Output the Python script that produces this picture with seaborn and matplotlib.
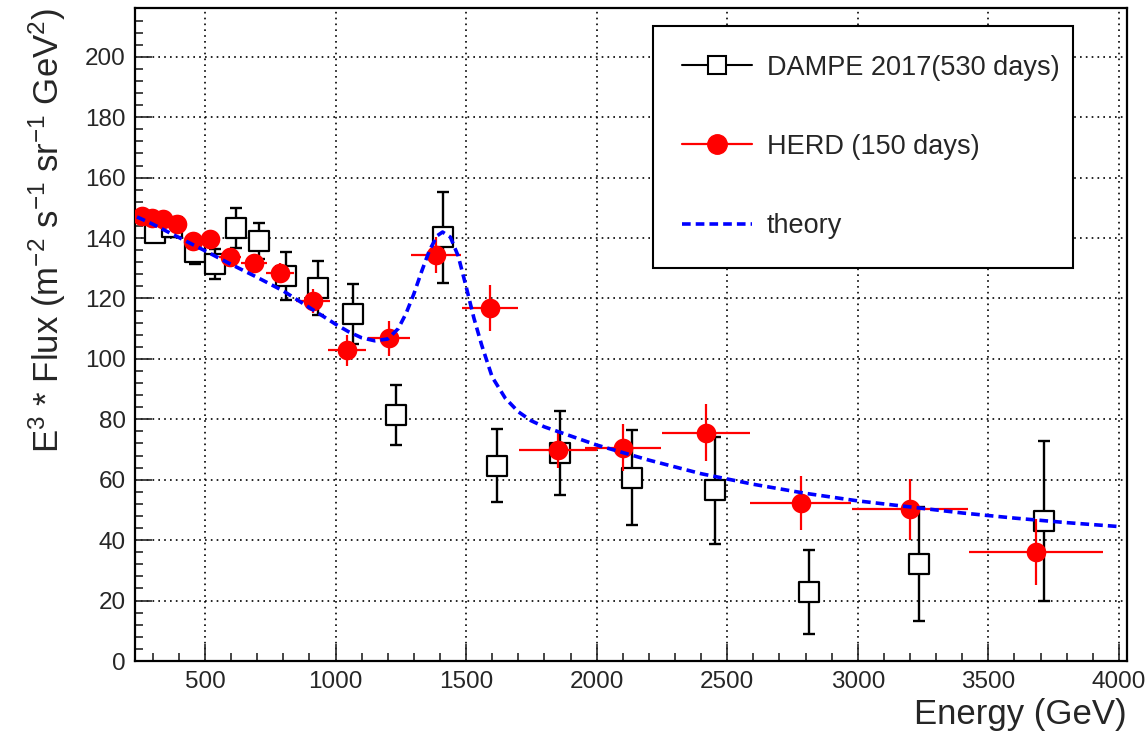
import matplotlib
matplotlib.use("Agg")
import matplotlib.pyplot as plt
from matplotlib.lines import Line2D
from matplotlib.ticker import MultipleLocator
import seaborn as sns

# DAMPE 2017 (530 days)
dampe_e = [309, 374, 462, 538, 619, 707, 810, 933, 1067, 1231, 1411, 1618, 1859, 2135, 2453, 2813, 3234, 3713]
dampe_flux = [141.8, 143.5, 135.3, 131.5, 143.3, 139.0, 127.4, 123.5, 114.8, 81.4, 140.2, 64.7, 68.9, 60.6, 56.5, 22.8, 32.1, 46.4]
dampe_err = [3, 3, 4, 5, 6.5, 6, 8, 9, 10, 9.8, 15, 12, 14, 15.7, 17.7, 14, 19, 26.5]

# HERD (150 days)
herd_e = [259, 297, 339, 393, 454, 519, 596, 688, 787, 914, 1044, 1205, 1385, 1591, 1852, 2101, 2419, 2782, 3200, 3682]
herd_flux = [147.3, 146.8, 146.3, 144.8, 139.1, 139.6, 133.6, 131.6, 128.6, 119.1, 102.8, 106.8, 134.3, 117.0, 69.8, 70.6, 75.6, 52.2, 50.2, 36.1]
herd_xerr = [18, 21, 24, 28, 32, 36, 42, 48, 55, 64, 71, 80, 97, 108, 150, 146, 169, 193, 223, 257]
herd_yerr = [1.5, 1.5, 1.5, 2, 2, 2.5, 2.5, 3, 3, 4, 5, 5.7, 6, 7.6, 6, 7.7, 9.4, 9, 10, 11]

# theory curve
theory_e = [240, 300, 400, 500, 600, 700, 800, 900, 1000, 1050, 1100, 1150, 1200, 1240, 1270, 1300,
            1330, 1360, 1390, 1410, 1440, 1470, 1500, 1530, 1560, 1600, 1650, 1700, 1750, 1800, 1900,
            2000, 2200, 2400, 2600, 2800, 3000, 3200, 3400, 3600, 3800, 4000]
theory_flux = [147.0, 144.6, 140.2, 135.8, 131.3, 127.0, 122.5, 117.0, 111.5, 109.0, 107.0, 106.0, 106.6, 110.0, 115.0, 121.5,
               129.0, 136.0, 140.8, 142.0, 140.3, 134.0, 124.0, 113.5, 104.5, 94.0, 87.0, 82.5, 79.5, 77.5, 74.5,
               71.5, 66.5, 62.0, 58.5, 55.5, 53.0, 51.0, 49.0, 47.3, 45.8, 44.5]

sns.set_theme(style="white")
plt.rcParams["font.family"] = ["Liberation Sans", "DejaVu Sans"]
plt.rcParams["mathtext.fontset"] = "custom"
plt.rcParams["mathtext.rm"] = "Liberation Sans"
plt.rcParams["mathtext.it"] = "Liberation Sans:italic"
plt.rcParams["mathtext.bf"] = "Liberation Sans:bold"

fig = plt.figure(figsize=(11.47, 7.36), dpi=100)
ax = fig.add_axes([0.1181, 0.1019, 0.8645, 0.8866])

# DAMPE: open squares with capped vertical errors
ax.errorbar(dampe_e, dampe_flux, yerr=dampe_err, fmt="none", ecolor="black",
            elinewidth=1.7, capsize=4, capthick=1.7, zorder=3)
sns.scatterplot(x=dampe_e, y=dampe_flux, ax=ax, marker="s", s=190, color="white",
                edgecolor="black", linewidth=1.6, zorder=4)

# HERD: filled red circles with x and y error bars
ax.errorbar(herd_e, herd_flux, xerr=herd_xerr, yerr=herd_yerr, fmt="none", ecolor="red",
            elinewidth=1.6, capsize=0, zorder=5)
sns.scatterplot(x=herd_e, y=herd_flux, ax=ax, marker="o", s=200, color="red",
                edgecolor="red", linewidth=0, zorder=6)

# theory
sns.lineplot(x=theory_e, y=theory_flux, ax=ax, color="blue", linewidth=2.6,
             linestyle=(0, (2.4, 1.4)), sort=False, estimator=None, zorder=7)

ax.set_xlim(234, 4031)
ax.set_ylim(0, 216)
ax.xaxis.set_major_locator(MultipleLocator(500))
ax.xaxis.set_minor_locator(MultipleLocator(100))
ax.yaxis.set_major_locator(MultipleLocator(20))
ax.yaxis.set_minor_locator(MultipleLocator(4))
ax.set_xticks([500, 1000, 1500, 2000, 2500, 3000, 3500, 4000])
ax.set_yticks(list(range(0, 201, 20)))

ax.grid(True, which="major", color="black", linestyle=(0, (1, 2.5)), linewidth=1.2)
ax.tick_params(axis="both", which="major", direction="in", length=12, width=1.2,
               labelsize=17.5, pad=7, top=False, right=False, bottom=True, left=True)
ax.tick_params(axis="both", which="minor", direction="in", length=6, width=1.2,
               top=False, right=False, bottom=True, left=True)
for sp in ax.spines.values():
    sp.set_color("black")
    sp.set_linewidth(1.6)

ax.set_xlabel("Energy (GeV)", fontsize=25, loc="right", labelpad=4)
ax.set_ylabel(r"E$^{3}$ * Flux (m$^{-2}$ s$^{-1}$ sr$^{-1}$ GeV$^{2}$)", fontsize=25,
              loc="top", labelpad=12)

handles = [
    Line2D([], [], color="black", lw=1.5, marker="s", markersize=13, markerfacecolor="white",
           markeredgecolor="black", markeredgewidth=1.5),
    Line2D([], [], color="red", lw=1.6, marker="o", markersize=14, markerfacecolor="red",
           markeredgecolor="red"),
    Line2D([], [], color="blue", lw=2.6, linestyle=(0, (2.4, 1.4))),
]
labels = ["DAMPE 2017(530 days)", "HERD (150 days)", "theory"]
leg = ax.legend(handles, labels, loc="upper left", bbox_to_anchor=(0.522, 0.605, 0.4235, 0.368),
                mode="expand", fontsize=19.5, frameon=True, fancybox=False, framealpha=1,
                edgecolor="black", borderpad=1.05, labelspacing=1.97, handlelength=2.6,
                handletextpad=0.55, borderaxespad=0)
leg.get_frame().set_linewidth(1.5)
leg.set_zorder(10)

fig.savefig("out.png", dpi=100)
